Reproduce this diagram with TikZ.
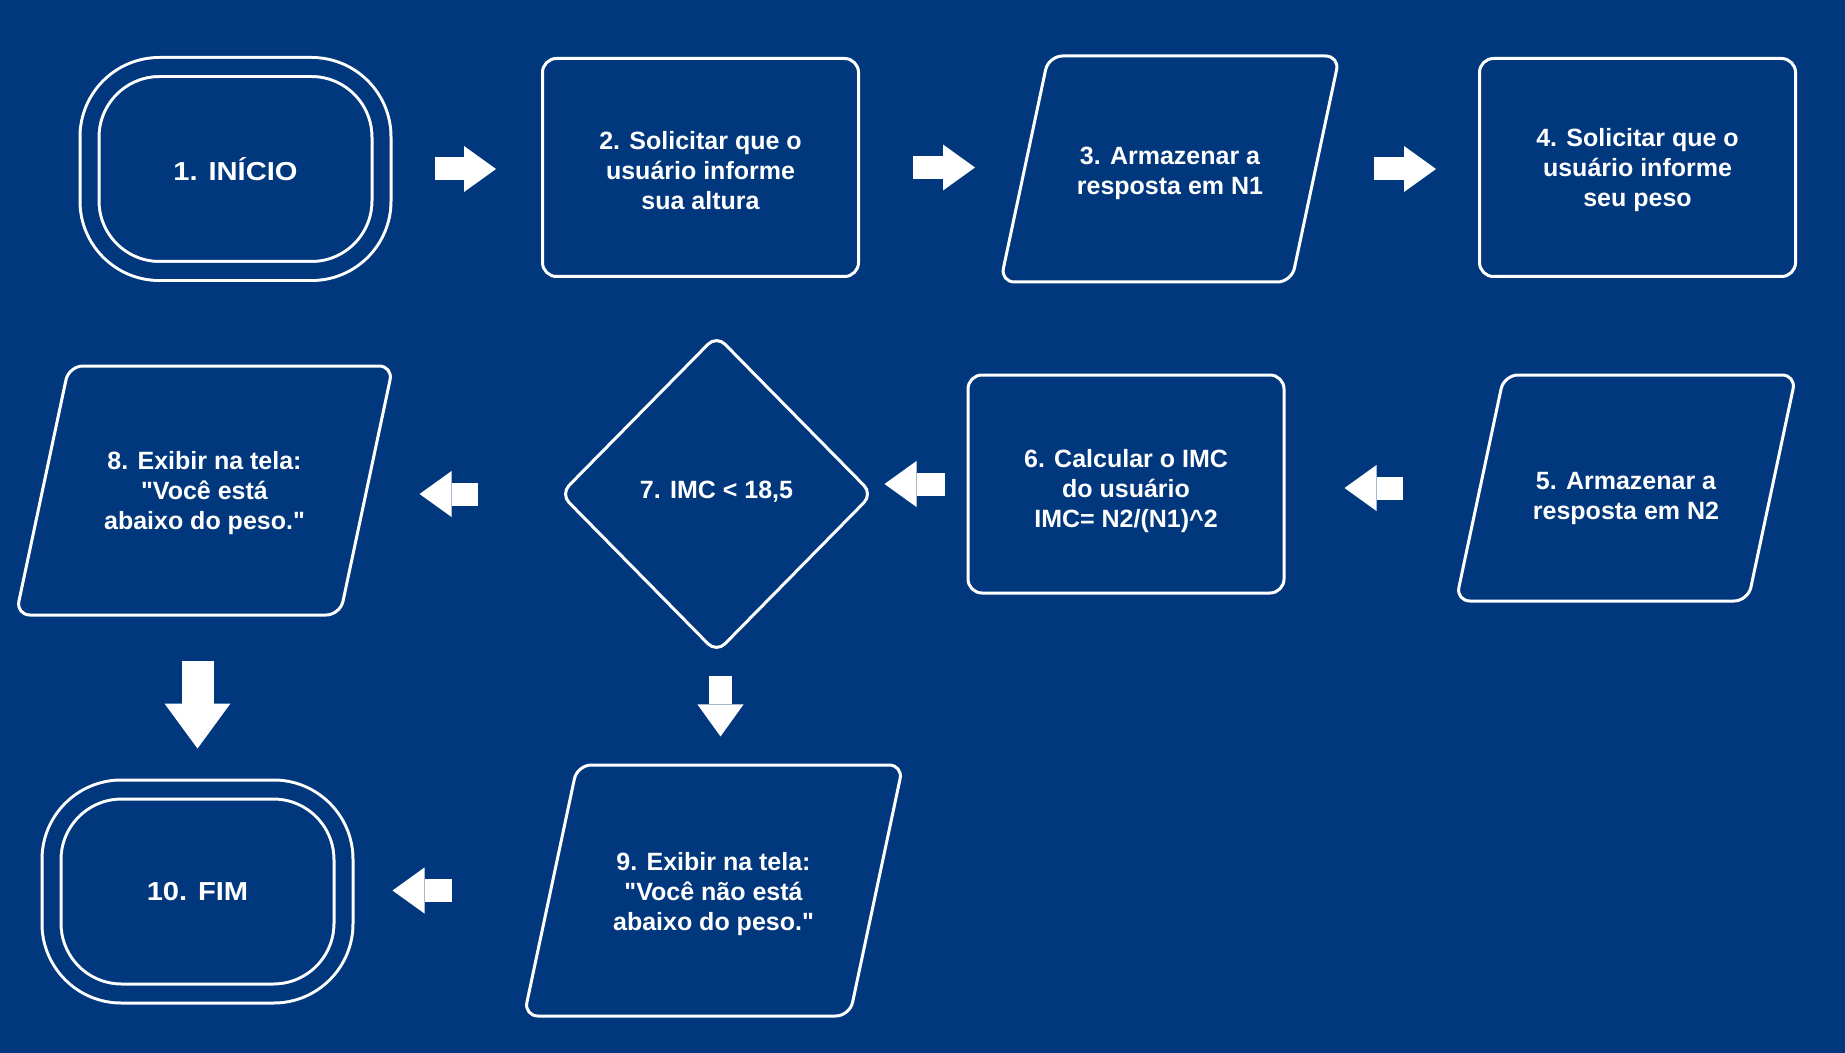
\documentclass[tikz,border=0pt]{standalone}
\usepackage{fontspec}
\setmainfont{Liberation Sans}
\newfontfamily\widefont[FakeStretch=1.12]{Liberation Sans}
\usetikzlibrary{shapes.geometric,arrows.meta}
\definecolor{bg}{RGB}{1,56,125}
% text block moved down by #1 without changing its size
\newcommand{\lines}[2]{\raisebox{-#1}[\height][\depth]{\begin{tabular}{@{}c@{}}#2\end{tabular}}}

\begin{document}
\begin{tikzpicture}[x=1pt,y=-1pt,
  every node/.style={text=white,font=\fontsize{12.5}{15}\selectfont\bfseries,align=center},
  terminal/.style={draw=white,line width=1.5pt,double=bg,double distance=8pt,
    rounded corners=35pt,minimum width=146pt,minimum height=102pt,
    font=\widefont\fontsize{13}{15}\selectfont\bfseries},
  process/.style={draw=white,line width=1.5pt,rounded corners=7pt,
    minimum width=158pt,minimum height=109pt},
  io/.style={trapezium,trapezium left angle=78,trapezium right angle=102,
    trapezium stretches body,draw=white,line width=1.5pt,rounded corners=7pt},
  decision/.style={diamond,draw=white,line width=1.5pt,rounded corners=6pt,
    minimum width=156.5pt,minimum height=159pt},
  blk/.style={white,line width=11.5pt,-{Triangle[length=16pt,width=23pt,line width=0pt]}},
  bigblk/.style={white,line width=16pt,-{Triangle[length=22.5pt,width=33pt,line width=0pt]}}]
\fill[bg] (0,0) rectangle (922.5,526.5);

% first row
\node[terminal] (n1) at (117.75,84.5) {1. INÍCIO};
\node[process] (n2) at (350.25,83.75) {\lines{3pt}{2. Solicitar que o\\usuário informe\\sua altura}};
\node[io,inner ysep=41.5pt,minimum width=169.5pt] (n3) at (585,84.5) {\lines{2.4pt}{3. Armazenar a\\resposta em N1}};
\node[process] (n4) at (818.75,83.75) {\lines{1.75pt}{4. Solicitar que o\\usuário informe\\seu peso}};

% second row
\node[io,inner ysep=41.5pt,minimum width=170pt] (n5) at (813,244) {\lines{5.3pt}{5. Armazenar a\\resposta em N2}};
\node[process] (n6) at (563,242) {\lines{3.5pt}{6. Calcular o IMC\\do usuário\\IMC= N2/(N1)\textasciicircum 2}};
\node[decision] (n7) at (358.25,247) {\lines{-1pt}{7. IMC < 18,5}};
\node[io,inner ysep=39.75pt,minimum width=188.5pt] (n8) at (102.25,245.25) {\lines{1.5pt}{8. Exibir na tela:\\\textquotedbl Você está\\abaixo do peso.\textquotedbl}};

% third row
\node[io,inner ysep=40.25pt,minimum width=189.5pt] (n9) at (356.75,445.25) {\lines{1.8pt}{9. Exibir na tela:\\\textquotedbl Você não está\\abaixo do peso.\textquotedbl}};
\node[terminal] (n10) at (98.75,445.75) {10. FIM};

% arrows
\draw[blk,shorten <=26pt,shorten >=22.5pt] (n1.east) -- (n1.east -| n2.west);
\draw[blk,shorten <=26.5pt,shorten >=24pt] (n2.east) -- (n2.east -| n3.west);
\draw[blk,shorten <=28.5pt,shorten >=21pt] (n3.east) -- (n3.east -| n4.west);
\draw[blk,shorten <=37.75pt,shorten >=29.5pt] (n5.west) -- (n5.west -| n6.east);
\draw[blk,shorten <=11pt,shorten >=5pt] (n6.west) -- (n6.west -| n7.east);
\draw[blk,shorten <=40.5pt,shorten >=25.75pt] (n7.west) -- (n7.west -| n8.east);
\draw[blk,shorten <=10.5pt,shorten >=13.5pt] ([xshift=2pt]n7.south) -- ([xshift=2pt]n7.south |- n9.north);
\draw[bigblk,shorten <=22pt,shorten >=19.75pt] (n10.north |- n8.south) -- (n10.north);
\draw[blk,shorten <=48.75pt,shorten >=23.75pt] (n9.west) -- (n9.west -| n10.east);
\end{tikzpicture}
\end{document}
